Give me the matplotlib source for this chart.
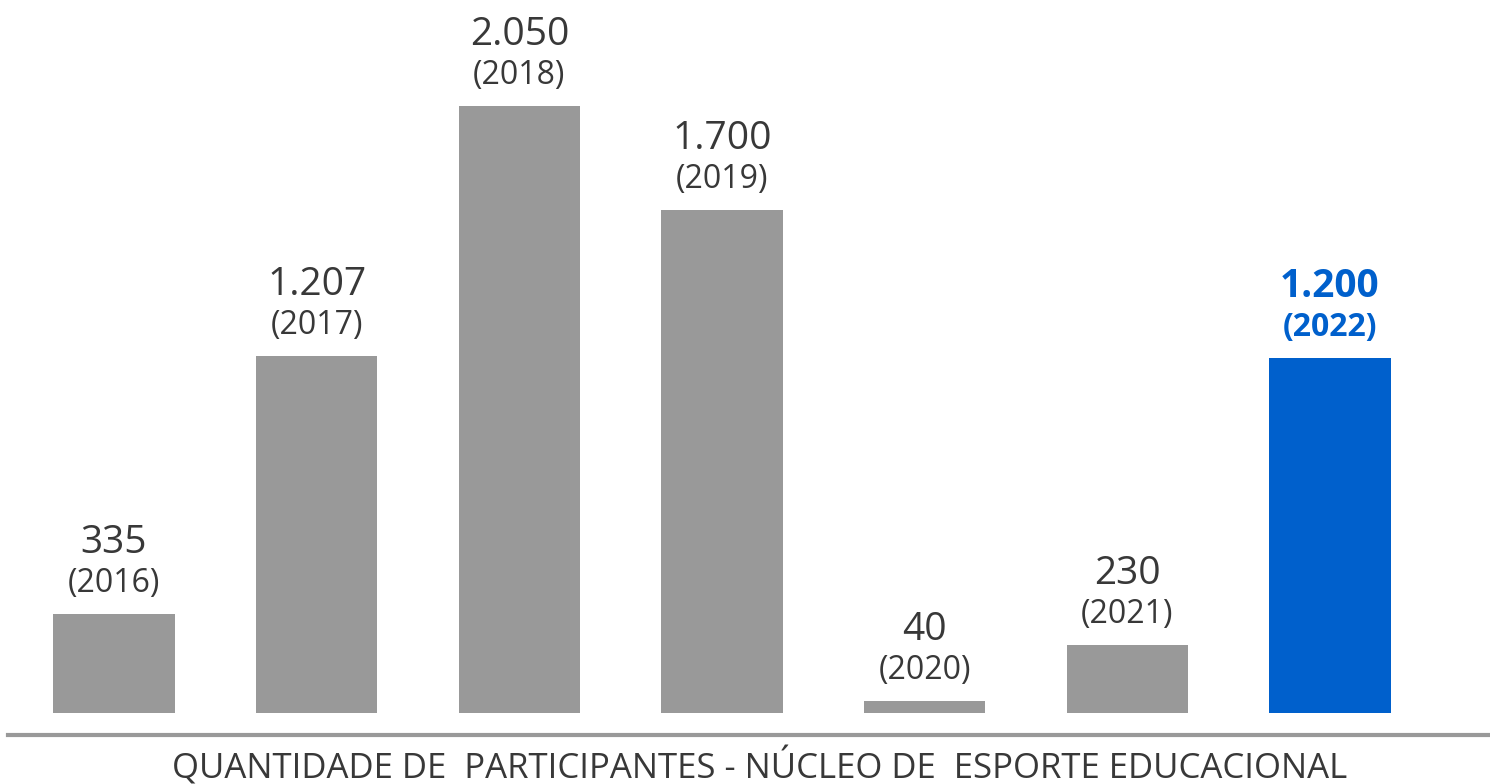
import matplotlib
matplotlib.use("Agg")
import matplotlib.pyplot as plt
from matplotlib.lines import Line2D

years = ["2016", "2017", "2018", "2019", "2020", "2021", "2022"]
values = [335, 1207, 2050, 1700, 40, 230, 1200]
value_labels = ["335", "1.207", "2.050", "1.700", "40", "230", "1.200"]
title = "QUANTIDADE DE  PARTICIPANTES - NÚCLEO DE  ESPORTE EDUCACIONAL"

gray = "#999999"
blue = "#0060CC"
text_col = "#383838"
colors = [gray] * 6 + [blue]

plt.rcParams['font.family'] = ['Open Sans', 'DejaVu Sans']

W, H = 1490, 784
fig = plt.figure(figsize=(W / 100, H / 100), dpi=100)
ax = fig.add_axes([0, 0, 1, 1])

x = list(range(len(years)))
ax.bar(x, values, width=0.6, color=colors)

# scale: x=0 at 114 px, x=6 at 1330 px; y=0 at 713 px from top, 0.296 px per unit
pxu = (1330 - 114) / 6
xmin = -114 / pxu
ax.set_xlim(xmin, xmin + W / pxu)
ypx = 0.296
ymin = -(H - 713) / ypx
ax.set_ylim(ymin, ymin + H / ypx)
ax.axis("off")

for i, (v, lab, yr) in enumerate(zip(values, value_labels, years)):
    bold = i == len(years) - 1
    c = blue if bold else text_col
    fw = "bold" if bold else "normal"
    ax.annotate(lab, (i, v), xytext=(0, 61), textcoords="offset pixels",
                ha="center", va="baseline", fontsize=28, color=c, fontweight=fw)
    ax.annotate(f"({yr})", (i, v), xytext=(0, 22), textcoords="offset pixels",
                ha="center", va="baseline", fontsize=23, color=c, fontweight=fw)

fig.add_artist(Line2D([8 / W, 1], [(H - 735) / H] * 2, color="#999999", lw=3,
                      transform=fig.transFigure))
fig.text(760 / W, (H - 778) / H, title, ha="center", va="baseline",
         fontsize=25, color=text_col)

fig.savefig("out.png", dpi=100)
